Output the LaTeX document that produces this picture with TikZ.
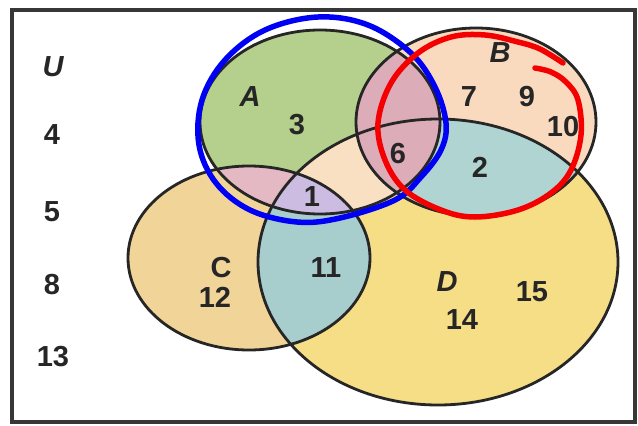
\documentclass[tikz,border=0pt]{standalone}
\usepackage{fontspec}
\setmainfont{Liberation Sans}
\begin{document}
\begin{tikzpicture}[x=1pt,y=-1pt,
  lbl/.style={font=\fontsize{29}{32}\selectfont\bfseries, text=black!85, inner sep=0pt},
  ilbl/.style={lbl, font=\fontsize{29}{32}\selectfont\bfseries\itshape},
  outline/.style={draw=black!85, line width=2.8pt},
  hand/.style={line width=5.5pt, line cap=round, line join=round}]
\definecolor{Agreen}{RGB}{180,208,140}
\definecolor{Bpeach}{RGB}{250,218,190}
\definecolor{Ctan}{RGB}{240,212,152}
\definecolor{Dyellow}{RGB}{246,222,135}
\definecolor{tealC}{RGB}{168,205,205}
\definecolor{tealB}{RGB}{175,212,210}
\definecolor{pinkAB}{RGB}{220,172,185}
\definecolor{pinkAC}{RGB}{228,185,195}
\definecolor{peachAD}{RGB}{250,224,195}
\definecolor{lavender}{RGB}{205,188,225}
\definecolor{frame}{RGB}{55,55,55}
\definecolor{penblue}{RGB}{0,0,245}
\definecolor{penred}{RGB}{245,0,0}
\useasboundingbox (0,0) rectangle (638,426);
\fill[white] (0,0) rectangle (638,426);
\def\EA{(320,122) ellipse [x radius=120, y radius=92]}
\def\EB{(476,122) ellipse [x radius=120, y radius=94]}
\def\EC{(249,258) ellipse [x radius=121, y radius=92]}
\def\ED{(438,262) ellipse [x radius=180, y radius=143]}
% frame
\node[draw=frame, line width=4pt, minimum width=623pt, minimum height=412pt, inner sep=0pt] (frame) at (323.5,216) {};
% base fills
\fill[Dyellow] \ED;
\fill[Ctan] \EC;
\fill[Bpeach] \EB;
\fill[Agreen] \EA;
\begin{scope}\clip \EC; \fill[tealC] \ED; \end{scope}
\begin{scope}\clip \EB; \fill[tealB] \ED; \end{scope}
\begin{scope}\clip \EA; \fill[peachAD] \ED; \end{scope}
\begin{scope}\clip \EA; \fill[pinkAC] \EC; \end{scope}
\begin{scope}\clip \EA; \clip \EC; \fill[lavender] \ED; \end{scope}
\begin{scope}\clip \EA; \fill[pinkAB] \EB; \end{scope}
% outlines
\draw[outline] \EA;
\draw[outline] \EB;
\draw[outline] \EC;
\draw[outline] \ED;
% universe labels
\node[ilbl] (U) at (53,67) {U};
\node[lbl] (u4) at (52,135) {4};
\node[lbl] (u5) at (52,212) {5};
\node[lbl] (u8) at (52,285) {8};
\node[lbl] (u13) at (53,357) {13};
% set labels
\node[ilbl] (lA) at (250,97) {A};
\node[lbl] (n3) at (297,125) {3};
\node[ilbl] (lB) at (500,53) {B};
\node[lbl] (n7) at (469,97) {7};
\node[lbl] (n9) at (527,97) {9};
\node[lbl] (n10) at (563,127) {10};
\node[lbl] (n6) at (398,154) {6};
\node[lbl] (n2) at (480,167) {2};
\node[lbl] (n1) at (312,197) {1};
\node[lbl] (lC) at (221,268) {C};
\node[lbl] (n12) at (215,297) {12};
\node[lbl] (n11) at (326,268) {11};
\node[ilbl] (lD) at (447,282) {D};
\node[lbl] (n15) at (532,292) {15};
\node[lbl] (n14) at (462,320) {14};
% hand-drawn annotations
\draw[hand, penblue] plot[smooth cycle, tension=0.6] coordinates {
 (318,17) (368,25) (411,53) (435,87) (446,123) (441,150) (421,177) (395,200)
 (340,218) (297,222) (250,210) (216,183) (199,145) (202,100) (225,60) (265,30)};
\draw[hand, penred] plot[smooth, tension=0.6] coordinates {
 (563,63) (540,49) (518,42) (485,35) (451,37) (418,53) (391,83) (378,123)
 (385,160) (405,190) (441,210) (475,217) (518,210) (551,193) (571,170)
 (581,135) (578,100) (566,82) (551,72) (535,68)};
\end{tikzpicture}
\end{document}
